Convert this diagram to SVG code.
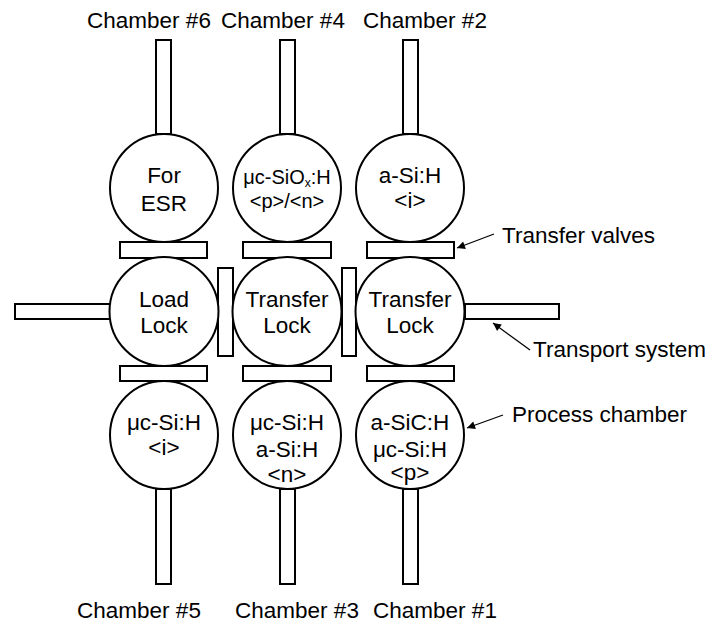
<svg xmlns="http://www.w3.org/2000/svg" width="709" height="623" viewBox="0 0 709 623">
<style>
.s{fill:#fff;stroke:#000;stroke-width:2}
.t{font-family:"Liberation Sans",Arial,sans-serif;font-size:22.5px;fill:#000;text-anchor:middle}
.l{font-family:"Liberation Sans",Arial,sans-serif;font-size:22.5px;fill:#000}
.a{stroke:#000;stroke-width:1.2;fill:none;marker-end:url(#ah)}
</style>
<defs>
<marker id="ah" viewBox="0 0 10 10" refX="10" refY="5" markerWidth="10" markerHeight="8" markerUnits="userSpaceOnUse" orient="auto">
<path d="M0,0 L10,5 L0,10 z" fill="#000"/>
</marker>
</defs>
<rect width="709" height="623" fill="#fff"/>
<g id="stems">
<rect class="s" x="156" y="40" width="15" height="94"/>
<rect class="s" x="280" y="40" width="15" height="94"/>
<rect class="s" x="403" y="40" width="15" height="94"/>
<rect class="s" x="156" y="489" width="15" height="95"/>
<rect class="s" x="280" y="489" width="15" height="95"/>
<rect class="s" x="403" y="489" width="15" height="95"/>
<rect class="s" x="15" y="304" width="95" height="15"/>
<rect class="s" x="465" y="304" width="94" height="15"/>
</g>
<g id="valves">
<rect class="s" x="120" y="242" width="87" height="16"/>
<rect class="s" x="243" y="242" width="88" height="16"/>
<rect class="s" x="367" y="242" width="87" height="16"/>
<rect class="s" x="120" y="366" width="87" height="15"/>
<rect class="s" x="243" y="366" width="88" height="15"/>
<rect class="s" x="367" y="366" width="87" height="15"/>
<rect class="s" x="218" y="268" width="15" height="88"/>
<rect class="s" x="342" y="268" width="14" height="88"/>
</g>
<g id="chamber6"><circle class="s" cx="164" cy="188" r="54"/><text class="t" x="164" y="183">For</text><text class="t" x="164" y="211">ESR</text></g>
<g id="chamber4"><circle class="s" cx="287" cy="188" r="54"/><text class="t" x="287" y="184" style="font-size:20px">μc-SiO<tspan dy="3" style="font-size:12px">x</tspan><tspan dy="-3">:H</tspan></text><text class="t" x="287" y="208" style="font-size:20px">&lt;p&gt;/&lt;n&gt;</text></g>
<g id="chamber2"><circle class="s" cx="410" cy="188" r="54"/><text class="t" x="410" y="183">a-Si:H</text><text class="t" x="410" y="208">&lt;i&gt;</text></g>
<g id="loadlock"><circle class="s" cx="164" cy="311.5" r="54.5"/><text class="t" x="164" y="307">Load</text><text class="t" x="164" y="333">Lock</text></g>
<g id="transfer1"><circle class="s" cx="287" cy="311.5" r="54.5"/><text class="t" x="287" y="307">Transfer</text><text class="t" x="287" y="333">Lock</text></g>
<g id="transfer2"><circle class="s" cx="410" cy="311.5" r="54.5"/><text class="t" x="410" y="307">Transfer</text><text class="t" x="410" y="333">Lock</text></g>
<g id="chamber5"><circle class="s" cx="164" cy="435" r="54"/><text class="t" x="164" y="430">μc-Si:H</text><text class="t" x="164" y="455">&lt;i&gt;</text></g>
<g id="chamber3"><circle class="s" cx="287" cy="435" r="54"/><text class="t" x="287" y="430">μc-Si:H</text><text class="t" x="287" y="457">a-Si:H</text><text class="t" x="287" y="482">&lt;n&gt;</text></g>
<g id="chamber1"><circle class="s" cx="410" cy="435" r="54"/><text class="t" x="410" y="430">a-SiC:H</text><text class="t" x="410" y="457">μc-Si:H</text><text class="t" x="410" y="480">&lt;p&gt;</text></g>
<g id="labels">
<text class="t" x="149" y="28">Chamber #6</text>
<text class="t" x="283" y="28">Chamber #4</text>
<text class="t" x="425" y="28">Chamber #2</text>
<text class="t" x="139" y="618">Chamber #5</text>
<text class="t" x="297" y="618">Chamber #3</text>
<text class="t" x="435" y="618">Chamber #1</text>
<text class="l" x="502" y="243">Transfer valves</text>
<text class="l" x="533" y="357">Transport system</text>
<text class="l" x="512" y="422">Process chamber</text>
</g>
<g id="connectors">
<line class="a" x1="494" y1="234" x2="457" y2="248"/>
<line class="a" x1="530" y1="350" x2="493" y2="323"/>
<line class="a" x1="503" y1="415" x2="467" y2="428"/>
</g>
</svg>
